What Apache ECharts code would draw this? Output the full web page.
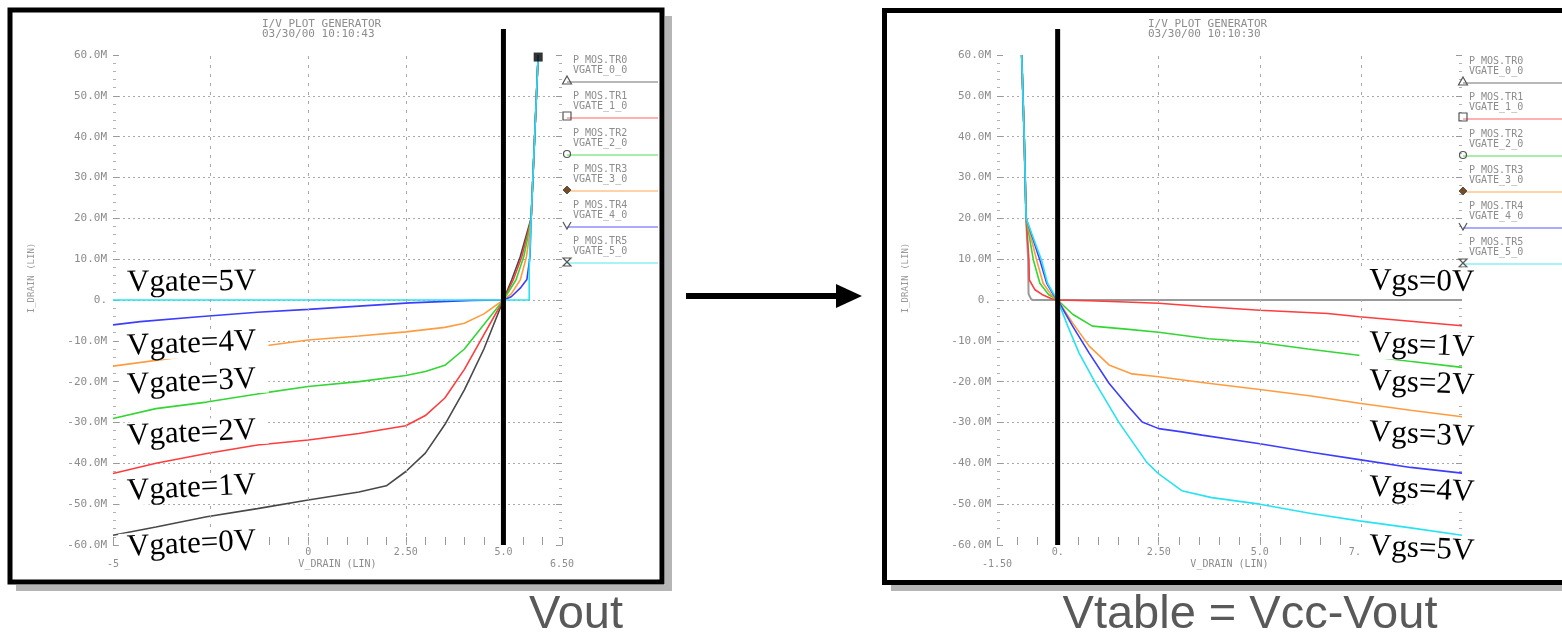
<!DOCTYPE html>
<html>
<head>
<meta charset="utf-8">
<title>P-MOS I/V curves</title>
<script src="https://cdn.jsdelivr.net/npm/echarts@6/dist/echarts.min.js"></script>
<style>
  * { margin: 0; padding: 0; }
  body { background: #fff; }
  #main { width: 1562px; height: 635px; }
</style>
</head>
<body>
<div id="main"></div>
<script>
// left plot: I_DRAIN (M) against Vout, one curve per gate voltage
var vgate0 = [[-5,-57.6],[-3.9,-55.6],[-2.6,-53.1],[-1.3,-51.1],[0,-49],[1.3,-47],[2,-45.5],[2.5,-42],[3,-37.5],[3.5,-30.5],[4,-22],[4.5,-12],[5,0],[5.21,4.9],[5.43,10.6],[5.62,17],[5.71,20],[5.89,60]];
var vgate1 = [[-5,-42.5],[-3.9,-40],[-2.6,-37.6],[-1.3,-35.5],[0,-34.3],[1.3,-32.7],[2.5,-30.8],[3,-28.3],[3.5,-24],[4,-17],[4.5,-8.5],[5,0],[5.25,4.9],[5.47,10.6],[5.64,17],[5.71,20],[5.89,60]];
var vgate2 = [[-5,-29],[-3.9,-26.6],[-2.6,-25],[-1.3,-23],[0,-21.2],[1.3,-20],[2.5,-18.5],[3,-17.5],[3.5,-16],[4,-12],[4.5,-6],[5,0],[5.32,4.9],[5.52,10.6],[5.66,17],[5.71,20],[5.89,60]];
var vgate3 = [[-5,-16.2],[-1,-11.1],[0,-9.8],[1.3,-8.8],[2.5,-7.8],[3.5,-6.7],[4,-5.7],[4.5,-3.4],[5,0],[5.2,1.5],[5.43,4.9],[5.59,10.6],[5.68,17],[5.71,20],[5.89,60]];
var vgate4 = [[-5,-6.1],[-4.3,-5.3],[-2.8,-4.1],[-1.3,-3],[0,-2.3],[1.3,-1.5],[2.6,-0.7],[4.2,-0.1],[5,0],[5.2,0.8],[5.43,2.9],[5.6,5],[5.68,10.6],[5.71,20],[5.89,60]];
var vgate5 = [[-5,0],[5.66,0],[5.66,7.4],[5.71,20],[5.89,60]];
var leftTopMark = [[5.89,59.5]];

// right plot: same devices against Vtable = Vcc - Vout
var vgs0 = [[-0.89,60],[-0.83,41],[-0.78,20],[-0.73,9.8],[-0.72,1.5],[-0.65,0.1],[-0.6,0],[10,0]];
var vgs1 = [[-0.89,60],[-0.83,41],[-0.78,20],[-0.71,9.8],[-0.7,4.9],[-0.56,2.5],[-0.36,1.2],[-0.15,0.3],[0,0],[0.78,-0.2],[1.68,-0.5],[2.5,-0.8],[3.57,-1.6],[5,-2.5],[6.68,-3.3],[7.46,-4.1],[8.73,-5.2],[10,-6.3]];
var vgs2 = [[-0.89,60],[-0.83,41],[-0.78,20],[-0.6,9.8],[-0.44,4.1],[-0.22,1.3],[0,0],[0.37,-3.5],[0.86,-6.4],[1.76,-7.2],[2.5,-7.9],[3.73,-9.5],[5,-10.4],[6.19,-12],[7.34,-13.4],[8.7,-15],[10,-16.5]];
var vgs3 = [[-0.89,60],[-0.83,41],[-0.78,20],[-0.52,9.8],[-0.36,4.1],[-0.15,1.2],[0,0],[0.37,-5.6],[0.78,-11.3],[1.27,-15.9],[1.84,-18.1],[2.5,-18.8],[3.57,-20.2],[5,-21.9],[6.27,-23.5],[7.46,-25.3],[8.73,-27],[10,-28.6]];
var vgs4 = [[-0.89,60],[-0.83,41],[-0.78,20],[-0.44,9.8],[-0.27,4.1],[-0.1,1.2],[0,0],[0.37,-6.4],[0.78,-13],[1.27,-20.4],[1.76,-26.2],[2.09,-29.9],[2.5,-31.5],[3.07,-32.3],[3.57,-33.1],[5,-35.2],[6.27,-37.3],[7.46,-39.1],[8.73,-41],[10,-42.4]];
var vgs5 = [[-0.89,60],[-0.83,41],[-0.78,20],[-0.4,9.8],[-0.25,4.1],[-0.08,1.2],[0,0],[0.25,-6.4],[0.53,-13],[0.94,-20.4],[1.51,-29.9],[2.2,-39.7],[2.5,-42.6],[3.07,-46.7],[3.81,-48.4],[5,-50],[6.27,-52.3],[7.46,-54.1],[8.73,-55.8],[10,-57.6]];

// axis ticks and labels
var leftXTicks = [-5, 0, 2.5, 5, 6.5];
var leftXTexts = ['-5', '0', '2.50', '5.0', '6.50'];
var leftXLow = [-5, 6.5];
var rightXTicks = [-1.5, 0, 2.5, 5, 7.5];
var rightXTexts = ['-1.50', '0.', '2.50', '5.0', '7.50'];
var rightXLow = [-1.5];
var leftVGrid = [-2.5, 0, 2.5];
var rightVGrid = [2.5, 5, 7.5];
var vccLeft = 5;
var vccRight = 0;

var leftNames = ['Vgate=0V', 'Vgate=1V', 'Vgate=2V', 'Vgate=3V', 'Vgate=4V', 'Vgate=5V'];
var rightNames = ['Vgs=0V', 'Vgs=1V', 'Vgs=2V', 'Vgs=3V', 'Vgs=4V', 'Vgs=5V'];
var legendNames = ['P_MOS.TR0', 'P_MOS.TR1', 'P_MOS.TR2', 'P_MOS.TR3', 'P_MOS.TR4', 'P_MOS.TR5'];
var legendSub = ['VGATE_0_0', 'VGATE_1_0', 'VGATE_2_0', 'VGATE_3_0', 'VGATE_4_0', 'VGATE_5_0'];

var curveColors = ['#484848', '#ff3d3d', '#33d633', '#ff9c40', '#3d3dff', '#27e3f2'];
var rightColors = ['#9a9a9a', '#ff3d3d', '#33d633', '#ff9c40', '#3d3dff', '#27e3f2'];
var legendColors = ['#b8b8b8', '#ffb0b0', '#a8eea8', '#ffd2a8', '#aaaaff', '#a8f2f8'];
var mono = '"DejaVu Sans Mono", monospace';
var grey = '#8c8c8c';

function yLabel(v) {
  return v === 0 ? '0.' : v.toFixed(1) + 'M';
}

function near(list, v) {
  for (var i = 0; i < list.length; i++) {
    if (Math.abs(list[i] - v) < 1e-6) return i;
  }
  return -1;
}

function makeX(grid, min, max, ticks, texts, low) {
  return {
    type: 'value', gridIndex: grid, min: min, max: max, interval: 0.5,
    axisLine: { show: false, onZero: false },
    axisTick: { inside: true, length: 8, lineStyle: { color: '#9a9a9a' } },
    splitLine: { show: false },
    axisLabel: {
      margin: 1, fontSize: 10, lineHeight: 12, fontFamily: mono, color: grey,
      showMinLabel: true, showMaxLabel: true,
      formatter: function (v) {
        var i = near(ticks, v);
        if (i < 0) return '';
        return near(low, v) >= 0 ? '\n' + texts[i] : texts[i];
      }
    },
    name: 'V_DRAIN (LIN)', nameLocation: 'middle', nameGap: 14, nameMoveOverlap: false,
    nameTextStyle: { fontSize: 10, fontFamily: mono, color: grey }
  };
}

function makeY(grid, pos, main) {
  return {
    type: 'value', gridIndex: grid, position: pos, min: -60, max: 60, interval: 10,
    axisLine: { show: false, onZero: false },
    axisTick: { show: true, inside: true, length: 6, lineStyle: { color: '#9a9a9a' } },
    minorTick: { show: true, splitNumber: 5, length: 3, lineStyle: { color: '#b0b0b0' } },
    splitLine: { show: main, showMinLine: false, showMaxLine: false,
      lineStyle: { color: '#aaaaaa', type: [2, 3], width: 1 } },
    axisLabel: { show: main, margin: 6, fontSize: 11, fontFamily: mono, color: grey, formatter: yLabel }
  };
}

function gridLines(list) {
  return {
    silent: true, symbol: 'none', label: { show: false },
    lineStyle: { color: '#a8a8a8', type: [3, 6], width: 1 },
    data: list.map(function (v) { return { xAxis: v }; })
  };
}

var series = [];
[vgate0, vgate1, vgate2, vgate3, vgate4, vgate5].forEach(function (d, i) {
  series.push({
    name: leftNames[i], type: 'line', xAxisIndex: 0, yAxisIndex: 0, data: d,
    symbol: 'none', lineStyle: { color: curveColors[i], width: 1.6 }, z: 3
  });
});
series[0].markLine = gridLines(leftVGrid);
series.push({
  type: 'scatter', xAxisIndex: 0, yAxisIndex: 0, data: leftTopMark,
  symbol: 'rect', symbolSize: 9, itemStyle: { color: '#000' }, z: 5
});
[vgs0, vgs1, vgs2, vgs3, vgs4, vgs5].forEach(function (d, i) {
  series.push({
    name: rightNames[i], type: 'line', xAxisIndex: 1, yAxisIndex: 2, data: d,
    symbol: 'none', lineStyle: { color: rightColors[i], width: i === 0 ? 2 : 1.6 }, z: 3
  });
});
series[7].markLine = gridLines(rightVGrid);

var chart = echarts.init(document.getElementById('main'));
chart.setOption({
  animation: false,
  backgroundColor: '#fff',
  grid: [
    { left: 113, top: 55, width: 449, height: 490 },
    { left: 997, top: 55, width: 465, height: 490 }
  ],
  xAxis: [
    makeX(0, -5, 6.5, leftXTicks, leftXTexts, leftXLow),
    makeX(1, -1.5, 10, rightXTicks, rightXTexts, rightXLow)
  ],
  yAxis: [makeY(0, 'left', true), makeY(0, 'right', false), makeY(1, 'left', true), makeY(1, 'right', false)],
  series: series
});

// decoration, labels and the Vcc markers
var xL = chart.convertToPixel({ xAxisIndex: 0 }, vccLeft);
var xR = chart.convertToPixel({ xAxisIndex: 1 }, vccRight);

var leftLabelY = [548, 492, 437, 386, 347, 283];
var leftLabelRot = [0.05, 0.05, 0.05, 0.05, 0.04, 0.01];
var rightLabelY = [281, 343, 381, 432, 487, 546];
var rightLabelRot = [-0.015, -0.045, -0.045, -0.05, -0.05, -0.05];
var legendLineY = [82, 118, 155, 191, 227, 263];
var markers = ['triangle', 'square', 'circle', 'diamond', 'vee', 'hourglass'];

function marker(kind, x, y) {
  var st = { fill: 'none', stroke: '#555', lineWidth: 1.2 };
  if (kind === 'triangle') return { type: 'polygon', shape: { points: [[x, y - 6], [x + 4.5, y + 2], [x - 4.5, y + 2]] }, style: st, z: 8 };
  if (kind === 'square') return { type: 'rect', shape: { x: x - 4, y: y - 6, width: 8, height: 8 }, style: st, z: 8 };
  if (kind === 'circle') return { type: 'circle', shape: { cx: x, cy: y - 1, r: 3.5 }, style: st, z: 8 };
  if (kind === 'diamond') return { type: 'polygon', shape: { points: [[x, y - 5], [x + 4, y - 1], [x, y + 3], [x - 4, y - 1]] }, style: { fill: '#7a4a22', stroke: '#555', lineWidth: 1 }, z: 8 };
  if (kind === 'vee') return { type: 'polyline', shape: { points: [[x - 4, y - 5], [x, y + 2], [x + 4, y - 5]] }, style: st, z: 8 };
  return { type: 'polygon', shape: { points: [[x - 4, y - 5], [x + 4, y - 5], [x - 4, y + 3], [x + 4, y + 3]] }, style: st, z: 8 };
}

var g = [];
// frame shadows and frames
g.push({ type: 'rect', shape: { x: 665, y: 16, width: 7, height: 575 }, style: { fill: '#b5b5b5' }, z: 1 });
g.push({ type: 'rect', shape: { x: 16, y: 585, width: 656, height: 6 }, style: { fill: '#b5b5b5' }, z: 1 });
g.push({ type: 'rect', shape: { x: 891, y: 585, width: 671, height: 6 }, style: { fill: '#b5b5b5' }, z: 1 });
g.push({ type: 'rect', shape: { x: 10, y: 10, width: 652, height: 572 }, style: { fill: 'none', stroke: '#000', lineWidth: 5 }, z: 40 });
g.push({ type: 'rect', shape: { x: 884.5, y: 10.5, width: 700, height: 572 }, style: { fill: 'none', stroke: '#000', lineWidth: 5 }, z: 40 });

// plot titles and y names
[[262, '03/30/00 10:10:43'], [1148, '03/30/00 10:10:30']].forEach(function (t) {
  g.push({ type: 'text', x: t[0], y: 19, z: 8,
    style: { text: 'I/V PLOT GENERATOR\n' + t[1], fontSize: 11, fontFamily: mono, lineHeight: 10, fill: grey, align: 'left', verticalAlign: 'top' } });
});
[32, 906].forEach(function (x) {
  g.push({ type: 'text', x: x, y: 278, rotation: Math.PI / 2, z: 8,
    style: { text: 'I_DRAIN (LIN)', fontSize: 9, fontFamily: mono, fill: '#999', align: 'center', verticalAlign: 'middle' } });
});

// legends beside each plot
[[567, 567, 658, 0], [1463, 1463, 1562, 1]].forEach(function (p) {
  legendNames.forEach(function (n, i) {
    var y = legendLineY[i] + p[3];
    g.push({ type: 'line', shape: { x1: p[1], y1: y, x2: p[2], y2: y }, style: { stroke: legendColors[i], lineWidth: 2 }, z: 6 });
    g.push({ type: 'text', x: p[0] + 6, y: y - 27, z: 8,
      style: { text: n + '\n' + legendSub[i], fontSize: 10, fontFamily: mono, lineHeight: 10, fill: grey, align: 'left', verticalAlign: 'top' } });
    g.push(marker(markers[i], p[0], y));
  });
});

// Vcc markers
g.push({ type: 'rect', shape: { x: xL - 2.5, y: 29, width: 5, height: 516 }, style: { fill: '#000' }, z: 50 });
g.push({ type: 'rect', shape: { x: xR - 2.5, y: 29, width: 5, height: 516 }, style: { fill: '#000' }, z: 50 });

// curve names with white boxes
var serif = '"Liberation Serif", "Times New Roman", serif';
leftNames.forEach(function (t, i) {
  g.push({ type: 'text', x: 119, y: leftLabelY[i], rotation: leftLabelRot[i], z: 60,
    style: { text: t, fontSize: 31, lineHeight: 26, fontFamily: serif, fill: '#000',
      align: 'left', verticalAlign: 'middle', backgroundColor: '#fff', padding: [2, 12, 0, 8] } });
});
rightNames.forEach(function (t, i) {
  g.push({ type: 'text', x: 1360, y: rightLabelY[i], rotation: rightLabelRot[i], z: 60,
    style: { text: t, fontSize: 31, lineHeight: 28, fontFamily: serif, fill: '#000',
      align: 'left', verticalAlign: 'middle', backgroundColor: '#fff', padding: [2, 4, 0, 9] } });
});

// arrow between the plots
g.push({ type: 'line', shape: { x1: 686, y1: 296, x2: 842, y2: 296 }, style: { stroke: '#000', lineWidth: 6 }, z: 10 });
g.push({ type: 'polygon', shape: { points: [[836, 284], [862, 296], [836, 308]] }, style: { fill: '#000' }, z: 10 });

// captions
var sans = '"Liberation Sans", Arial, sans-serif';
g.push({ type: 'text', x: 576, y: 615, z: 10,
  style: { text: 'Vout', fontSize: 47, fontFamily: sans, fill: '#595959', align: 'center', verticalAlign: 'middle' } });
g.push({ type: 'text', x: 1250, y: 615, z: 10,
  style: { text: 'Vtable = Vcc-Vout', fontSize: 47, fontFamily: sans, fill: '#595959', align: 'center', verticalAlign: 'middle' } });

chart.setOption({ graphic: { elements: g } });
</script>
</body>
</html>
